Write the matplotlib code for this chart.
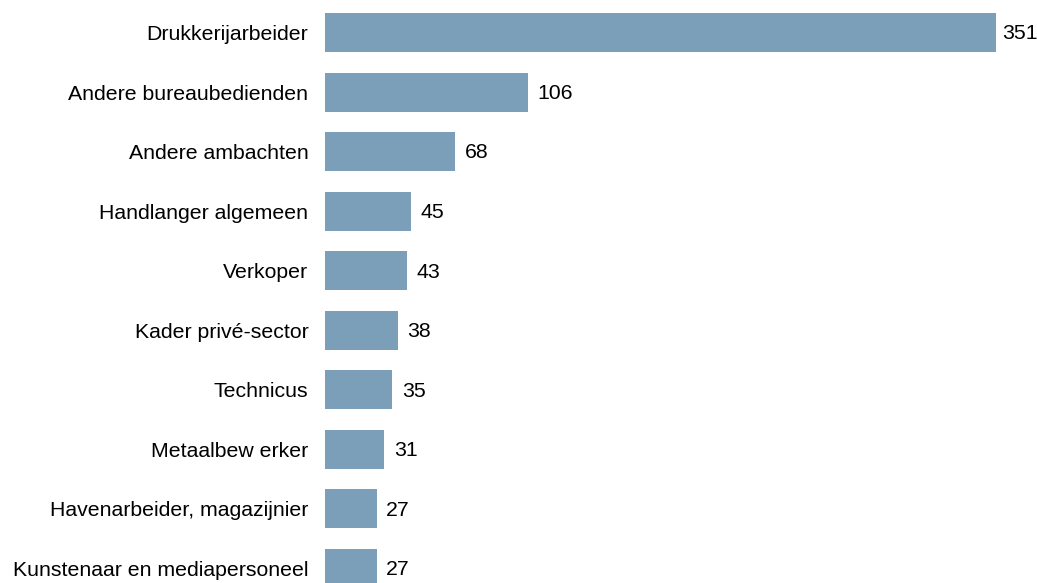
import matplotlib.pyplot as plt
from matplotlib.transforms import ScaledTranslation

plt.rcParams['font.family'] = ['Liberation Sans', 'DejaVu Sans']

# categories and counts, top to bottom
beroepen = [
    "Drukkerijarbeider",
    "Andere bureaubedienden",
    "Andere ambachten",
    "Handlanger algemeen",
    "Verkoper",
    "Kader privé-sector",
    "Technicus",
    "Metaalbew erker",
    "Havenarbeider, magazijnier",
    "Kunstenaar en mediapersoneel",
]
aantallen = [351, 106, 68, 45, 43, 38, 35, 31, 27, 27]

BAR_COLOR = "#7b9fb9"
FS = 15.3

fig = plt.figure(figsize=(10.37, 5.83), dpi=100)
ax = fig.add_axes([325 / 1037, 0, 712 / 1037, 1])

y = range(len(beroepen))
ax.barh(y, aantallen, height=0.655, color=BAR_COLOR)

for yi, v in zip(y, aantallen):
    # the longest bar has less room on the right
    dx = 4.5 if v == max(aantallen) else 7
    ax.annotate(str(v), (v, yi), xytext=(dx, -1), textcoords="offset points",
                va="center", ha="left", fontsize=FS)

ax.set_yticks(list(y))
ax.set_yticklabels(beroepen, fontsize=FS)
# labels sit a little below the bar centre in the original
shift = ScaledTranslation(0, -1.5 / 72, fig.dpi_scale_trans)
for lab in ax.get_yticklabels():
    lab.set_transform(lab.get_transform() + shift)
ax.tick_params(axis="y", length=0, pad=12)
ax.set_xticks([])
ax.set_xlim(0, 372.4)
ax.set_ylim(9.243, -0.545)
for s in ax.spines.values():
    s.set_visible(False)

fig.savefig("out.png", dpi=100)
